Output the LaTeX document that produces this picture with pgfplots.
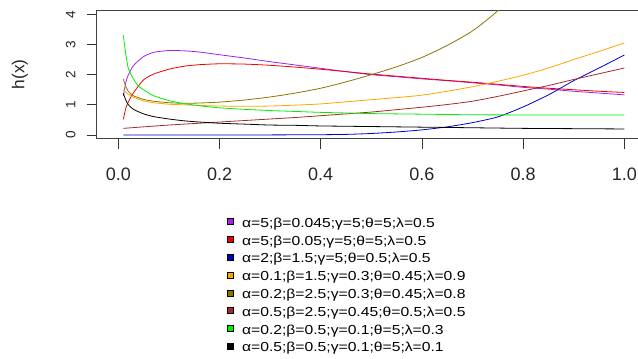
\documentclass[border=0pt]{standalone}
\usepackage{fontspec}
\setmainfont{Liberation Sans}
\newfontfamily\legfont[FakeStretch=1.2]{Liberation Sans}
\usepackage{pgfplots}
\pgfplotsset{compat=1.18}
\definecolor{cpurple}{HTML}{A020F0}
\definecolor{cred}{HTML}{EE0000}
\definecolor{cblue}{HTML}{0000CD}
\definecolor{corange}{HTML}{FFA500}
\definecolor{colive}{HTML}{8B7500}
\definecolor{cbrown}{HTML}{A52A2A}
\definecolor{cgreen}{HTML}{00EE00}
\definecolor{cblack}{HTML}{000000}
\begin{document}
\begin{tikzpicture}
\path[use as bounding box] (-72.525pt,-164.475pt) rectangle (405.975pt,104.025pt);
\begin{axis}[
  at={(0pt,0pt)}, anchor=south west,
  scale only axis, width=406.5pt, height=96.525pt,
  xmin=-0.0427, xmax=1.0284, ymin=-0.123, ymax=4.1425,
  separate axis lines,
  axis x line*=box, axis y line*=left,
  axis line style={black!75, line width=0.6pt},
  tick style={black!80, line width=0.6pt},
  tick align=outside, major tick length=7.5pt,
  xtick pos=lower, ytick pos=left,
  xtick={0,0.2,0.4,0.6,0.8,1},
  xticklabels={0.0,0.2,0.4,0.6,0.8,1.0},
  ytick={0,1,2,3,4},
  yticklabels={0,1,2,3,4},
  xticklabel style={font=\fontsize{13.5}{15}\selectfont, anchor=center, text=black!85},
  xticklabel shift=19pt,
  yticklabel style={font=\fontsize{10.2}{11}\selectfont, rotate=90, anchor=center, text=black!85},
  yticklabel shift=12pt,
  ylabel={h(x)},
  ylabel style={font=\fontsize{13}{15}\selectfont, at={(axis description cs:-0.1415,0.5)}, anchor=center, text=black!85},
  every axis plot/.append style={line width=0.6pt, smooth, tension=0.4},
  legend image code/.code={
    \fill[#1] (0pt,2pt) rectangle (4.5pt,6.5pt);
    \draw[black, line width=0.4pt] (0pt,2pt) rectangle (4.5pt,6.5pt);
    \path[draw=none, fill=none] (0pt,2pt) -- (11.25pt,2pt);
  },
  legend cell align=left,
  legend style={at={(axis description cs:0.2398,-0.6185)}, anchor=north west,
    draw=none, fill=none, inner sep=0pt, outer sep=0pt,
    row sep=4.55pt, column sep=0pt,
    font=\legfont\fontsize{9.8}{10}\selectfont,
    nodes={inner sep=0pt, anchor=base west, text height=6.5pt, text depth=2pt}},
]
\addplot[cpurple] coordinates {
(0.01,1.3) (0.015,1.75) (0.02,2.0) (0.03,2.3) (0.05,2.6) (0.07,2.74) (0.1,2.8)
(0.13,2.79) (0.16,2.75) (0.2,2.66) (0.25,2.55) (0.3,2.43) (0.35,2.32) (0.4,2.21)
(0.45,2.1) (0.5,2.0) (0.55,1.93) (0.6,1.86) (0.65,1.8) (0.7,1.73) (0.75,1.66)
(0.8,1.58) (0.85,1.52) (0.9,1.45) (0.95,1.39) (1.0,1.33)};
\addlegendentry{α=5;β=0.045;γ=5;θ=5;λ=0.5}
\addplot[cred] coordinates {
(0.01,0.52) (0.015,0.9) (0.02,1.1) (0.03,1.4) (0.05,1.83) (0.07,2.02) (0.1,2.18)
(0.13,2.28) (0.16,2.33) (0.2,2.36) (0.25,2.35) (0.3,2.31) (0.35,2.25) (0.4,2.18)
(0.45,2.1) (0.5,2.02) (0.55,1.95) (0.6,1.88) (0.65,1.81) (0.7,1.75) (0.75,1.68)
(0.8,1.61) (0.85,1.55) (0.9,1.5) (0.95,1.45) (1.0,1.41)};
\addlegendentry{α=5;β=0.05;γ=5;θ=5;λ=0.5}
\addplot[cblue] coordinates {
(0.01,0.0) (0.1,0.0) (0.2,0.0) (0.3,0.003) (0.4,0.01) (0.45,0.02) (0.5,0.05)
(0.55,0.1) (0.6,0.17) (0.65,0.27) (0.7,0.41) (0.75,0.6) (0.8,0.93) (0.85,1.33)
(0.9,1.8) (0.95,2.22) (1.0,2.65)};
\addlegendentry{α=2;β=1.5;γ=5;θ=0.5;λ=0.5}
\addplot[corange] coordinates {
(0.01,1.5) (0.02,1.35) (0.03,1.25) (0.05,1.13) (0.07,1.07) (0.1,1.02) (0.13,1.0)
(0.16,0.98) (0.2,0.96) (0.25,0.95) (0.3,0.96) (0.35,0.99) (0.4,1.03) (0.45,1.1)
(0.5,1.17) (0.55,1.24) (0.6,1.32) (0.65,1.45) (0.7,1.6) (0.75,1.78) (0.8,1.98)
(0.85,2.22) (0.9,2.5) (0.95,2.77) (1.0,3.05)};
\addlegendentry{α=0.1;β=1.5;γ=0.3;θ=0.45;λ=0.9}
\addplot[colive] coordinates {
(0.01,1.85) (0.015,1.6) (0.02,1.44) (0.03,1.3) (0.05,1.18) (0.07,1.12) (0.1,1.07)
(0.13,1.05) (0.16,1.06) (0.2,1.09) (0.25,1.16) (0.3,1.26) (0.35,1.39) (0.4,1.55)
(0.45,1.76) (0.5,2.0) (0.55,2.26) (0.6,2.57) (0.65,2.97) (0.7,3.45) (0.75,4.12)
(0.8,5.0)};
\addlegendentry{α=0.2;β=2.5;γ=0.3;θ=0.45;λ=0.8}
\addplot[cbrown] coordinates {
(0.01,0.22) (0.05,0.27) (0.1,0.33) (0.15,0.38) (0.2,0.43) (0.25,0.48) (0.3,0.53)
(0.35,0.58) (0.4,0.64) (0.45,0.7) (0.5,0.76) (0.55,0.84) (0.6,0.92) (0.65,1.01)
(0.7,1.12) (0.75,1.28) (0.8,1.46) (0.85,1.64) (0.9,1.84) (0.95,2.03) (1.0,2.22)};
\addlegendentry{α=0.5;β=2.5;γ=0.45;θ=0.5;λ=0.5}
\addplot[cgreen] coordinates {
(0.01,3.3) (0.015,2.65) (0.02,2.2) (0.03,1.85) (0.04,1.62) (0.05,1.5) (0.07,1.3)
(0.1,1.14) (0.13,1.04) (0.16,0.97) (0.2,0.9) (0.25,0.85) (0.3,0.81) (0.35,0.78)
(0.4,0.75) (0.45,0.73) (0.5,0.71) (0.6,0.69) (0.7,0.67) (0.8,0.665) (0.9,0.66)
(1.0,0.66)};
\addlegendentry{α=0.2;β=0.5;γ=0.1;θ=5;λ=0.3}
\addplot[cblack] coordinates {
(0.01,1.38) (0.015,1.15) (0.02,1.0) (0.03,0.85) (0.05,0.7) (0.07,0.61) (0.1,0.53)
(0.13,0.47) (0.16,0.43) (0.2,0.39) (0.25,0.36) (0.3,0.33) (0.35,0.32) (0.4,0.3)
(0.5,0.28) (0.6,0.26) (0.7,0.24) (0.8,0.22) (0.9,0.21) (1.0,0.2)};
\addlegendentry{α=0.5;β=0.5;γ=0.1;θ=5;λ=0.1}
\end{axis}
\end{tikzpicture}
\end{document}
